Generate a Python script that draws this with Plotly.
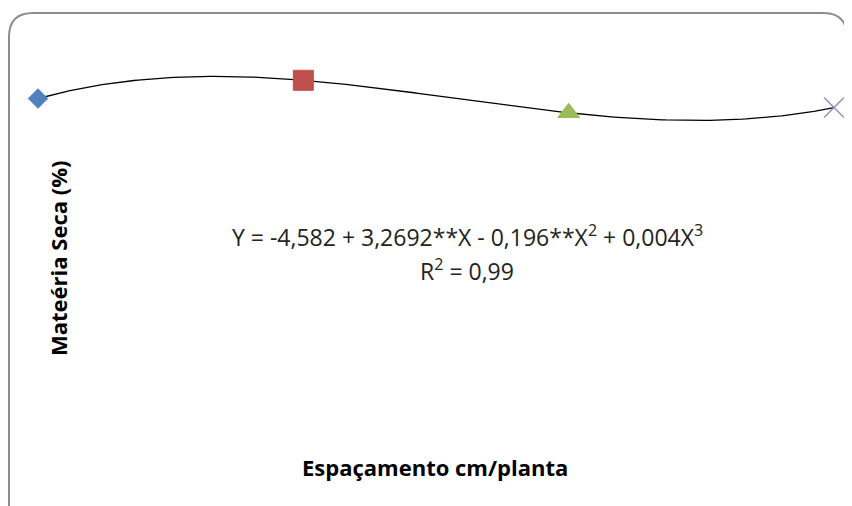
import numpy as np
import plotly.graph_objects as go

# Data (axis values are not shown in the reference)
espacamento = [10, 20, 30, 40]
materia_seca = [25.5, 26.9, 24.4, 24.8]
marker_symbols = ["diamond", "square", "triangle-up", "x-thin"]
marker_colors = ["#4F81BD", "#C0504D", "#9BBB59", "#9A86C2"]
equation_text = "Y = -4,582 + 3,2692**X - 0,196**X<sup>2</sup> + 0,004X<sup>3</sup>"
r2_text = "R<sup>2</sup> = 0,99"
x_title = "Espaçamento cm/planta"
y_title = "Mateéria Seca (%)"

# the page body has an 8px margin: figure is drawn 8px in from the window edge
OFF = 8
WIN_W, WIN_H = 852, 506
W, H = WIN_W - OFF, WIN_H - OFF

fig = go.Figure()

# cubic trend line fitted to the data
coef = np.polyfit(espacamento, materia_seca, 3)
xs = np.linspace(espacamento[0], espacamento[-1], 200)
fig.add_trace(go.Scatter(x=xs, y=np.polyval(coef, xs), mode="lines",
                         line=dict(color="black", width=1.3),
                         hoverinfo="skip", showlegend=False))

sizes = [15, 20, 19, 20]
widths = [1, 1, 1, 1.4]
for xv, yv, sym, col, sz, lw in zip(espacamento, materia_seca, marker_symbols,
                                    marker_colors, sizes, widths):
    fig.add_trace(go.Scatter(
        x=[xv], y=[yv], mode="markers",
        marker=dict(symbol=sym, color=col, size=sz,
                    line=dict(color=col, width=lw)),
        showlegend=False, cliponaxis=False))

def px(x):
    return (x - OFF) / W

def py(y):
    return 1 - (y - OFF) / H

# rounded chart border (window pixel coordinates)
l, t, r, b, rad = 9, 13, 847, 520, 24
path = (f"M {px(l)},{py(b)} L {px(l)},{py(t+rad)} "
        f"Q {px(l)},{py(t)} {px(l+rad)},{py(t)} "
        f"L {px(r-rad)},{py(t)} Q {px(r)},{py(t)} {px(r)},{py(t+rad)} "
        f"L {px(r)},{py(b)}")
fig.add_shape(type="path", path=path, xref="paper", yref="paper",
              line=dict(color="#8c8c8c", width=2))

font_family = "Open Sans, Noto Sans, sans-serif"
fig.add_annotation(text=equation_text, x=px(467), y=py(236), xref="paper", yref="paper",
                   showarrow=False, xanchor="center", yanchor="middle",
                   font=dict(family=font_family, size=23, color="#222"))
fig.add_annotation(text=r2_text, x=px(467), y=py(270), xref="paper", yref="paper",
                   showarrow=False, xanchor="center", yanchor="middle",
                   font=dict(family=font_family, size=23, color="#222"))
fig.add_annotation(text="<b>" + x_title + "</b>", x=px(435), y=py(467), xref="paper", yref="paper",
                   showarrow=False, xanchor="center", yanchor="middle",
                   font=dict(family=font_family, size=22, color="black"))
fig.add_annotation(text="<b>" + y_title + "</b>", x=px(58), y=py(259), xref="paper", yref="paper",
                   showarrow=False, xanchor="center", yanchor="middle", textangle=-90,
                   font=dict(family=font_family, size=22, color="black"))

# axis ranges chosen so that markers land at the reference pixel positions
x0_px, x1_px = 38, 834
xscale = (espacamento[-1] - espacamento[0]) / (x1_px - x0_px)
xr = [espacamento[0] - (x0_px - OFF) * xscale, espacamento[-1] + (WIN_W - x1_px) * xscale]
# value = 30*(430 - ypx)/390 in window pixels
yr = [30 * (430 - WIN_H) / 390, 30 * (430 - OFF) / 390]

fig.update_layout(
    width=W, height=H,
    margin=dict(l=0, r=0, t=0, b=0),
    paper_bgcolor="white", plot_bgcolor="white",
    xaxis=dict(range=xr, visible=False, domain=[0, 1]),
    yaxis=dict(range=yr, visible=False, domain=[0, 1]),
)

fig.write_html("out.html")
